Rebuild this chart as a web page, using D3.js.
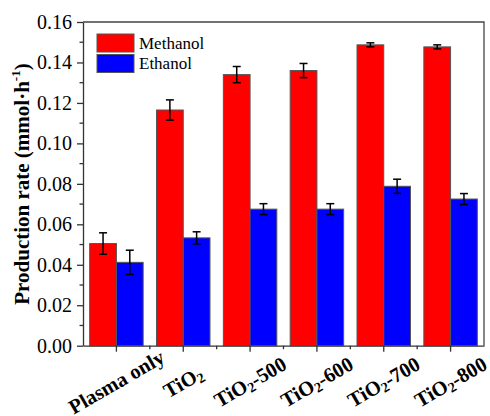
<!DOCTYPE html>
<html lang="en">
<head>
<meta charset="UTF-8">
<title>Production rate</title>
<script src="https://d3js.org/d3.v7.min.js"></script>
<style>
  body { margin: 0; background: #fff; }
  svg text { font-family: "Liberation Serif", "DejaVu Serif", serif !important; }
</style>
</head>
<body>
<script>

var categories = ["Plasma only", "TiO2", "TiO2-500", "TiO2-600", "TiO2-700", "TiO2-800"];
var seriesNames = ["Methanol", "Ethanol"];
var methanol = [0.0505, 0.1165, 0.1340, 0.1360, 0.1487, 0.1477];
var methanolErr = [0.0053, 0.0050, 0.0040, 0.0035, 0.0010, 0.0010];
var ethanol = [0.0412, 0.0533, 0.0675, 0.0675, 0.0788, 0.0725];
var ethanolErr = [0.0060, 0.0030, 0.0027, 0.0027, 0.0035, 0.0027];
var yTicks = [0, 0.02, 0.04, 0.06, 0.08, 0.10, 0.12, 0.14, 0.16];
var colors = ["#ff0000", "#0000ff"];

var width = 490, height = 416;
var plotLeft = 83, plotRight = 484, plotTop = 22, plotBottom = 345.7;
var serif = "'Liberation Serif', 'DejaVu Serif', serif";

var svg = d3.select("body").append("svg")
    .attr("width", width)
    .attr("height", height)
    .attr("font-family", serif);

var x = d3.scaleBand()
    .domain(categories)
    .range([plotLeft, plotRight])
    .paddingInner(0.2)
    .paddingOuter(0.1);

var x1 = d3.scaleBand()
    .domain(seriesNames)
    .range([0, x.bandwidth()]);

var y = d3.scaleLinear()
    .domain([0, 0.16])
    .range([plotBottom, plotTop]);

var values = [methanol, ethanol];
var errs = [methanolErr, ethanolErr];

// bars
seriesNames.forEach(function(s, si) {
    var g = svg.append("g");
    g.selectAll("rect")
        .data(categories)
        .enter().append("rect")
        .attr("x", function(d) { return x(d) + x1(s); })
        .attr("y", function(d, i) { return y(values[si][i]); })
        .attr("width", x1.bandwidth())
        .attr("height", function(d, i) { return plotBottom - y(values[si][i]); })
        .style("fill", colors[si])
        .style("stroke", "#555")
        .style("stroke-width", 1);

    // error bars
    var e = svg.append("g").style("stroke", "#000").style("stroke-width", 1.5);
    categories.forEach(function(d, i) {
        var cx = x(d) + x1(s) + x1.bandwidth() / 2;
        var hi = y(values[si][i] + errs[si][i]), lo = y(values[si][i] - errs[si][i]);
        e.append("line").attr("x1", cx).attr("x2", cx).attr("y1", hi).attr("y2", lo);
        e.append("line").attr("x1", cx - 4).attr("x2", cx + 4).attr("y1", hi).attr("y2", hi);
        e.append("line").attr("x1", cx - 4).attr("x2", cx + 4).attr("y1", lo).attr("y2", lo);
    });
});

// y axis
var yAxis = svg.append("g")
    .attr("transform", "translate(" + plotLeft + ",0)")
    .call(d3.axisLeft(y).tickValues(yTicks).tickFormat(d3.format(".2f")).tickSize(6).tickSizeOuter(0).tickPadding(5));
yAxis.attr("font-family", serif);
yAxis.selectAll("text").style("font-size", "20px").style("fill", "#000");
yAxis.selectAll("line, path").style("stroke", "#333").style("stroke-width", 1.3);

var minorY = d3.range(1, 16, 2).map(function(k) { return k * 0.01; });
svg.append("g").selectAll("line")
    .data(minorY).enter().append("line")
    .attr("x1", plotLeft - 3.5).attr("x2", plotLeft)
    .attr("y1", function(d) { return y(d); }).attr("y2", function(d) { return y(d); })
    .style("stroke", "#333").style("stroke-width", 1.3);

// x axis
var xAxis = svg.append("g")
    .attr("transform", "translate(0," + plotBottom + ")")
    .call(d3.axisBottom(x).tickSize(6).tickSizeOuter(0).tickFormat(""));
xAxis.selectAll("line, path").style("stroke", "#333").style("stroke-width", 1.3);

var minorX = categories.slice(1).map(function(d) { return x(d) - x.step() * x.paddingInner() / 2; });
svg.append("g").selectAll("line")
    .data(minorX).enter().append("line")
    .attr("x1", function(d) { return d; }).attr("x2", function(d) { return d; })
    .attr("y1", plotBottom).attr("y2", plotBottom + 3.5)
    .style("stroke", "#333").style("stroke-width", 1.3);

// frame top + right
svg.append("path")
    .attr("d", "M" + plotLeft + "," + plotTop + "H" + plotRight + "V" + plotBottom)
    .style("fill", "none").style("stroke", "#444").style("stroke-width", 1.3);

// x labels, rotated around their centre
categories.forEach(function(d) {
    var cx = x(d) + x.bandwidth() / 2;
    var t = svg.append("text")
        .attr("transform", "translate(" + cx + ",382) rotate(-30)")
        .attr("text-anchor", "middle")
        .attr("dominant-baseline", "central")
        .style("font-size", "20.5px")
        .style("font-weight", "bold");
    if (d.indexOf("TiO2") === 0) {
        t.append("tspan").text("TiO");
        t.append("tspan").text("2").attr("dy", 5).style("font-size", "14px");
        var rest = d.slice(4);
        if (rest) t.append("tspan").text(rest).attr("dy", -5);
    } else {
        t.text(d);
    }
});

// y title
var yt = svg.append("text")
    .attr("transform", "translate(22,184) rotate(-90)")
    .attr("text-anchor", "middle")
    .attr("dominant-baseline", "central")
    .style("font-size", "21px")
    .style("font-weight", "bold");
yt.append("tspan").text("Production rate (mmol·h");
yt.append("tspan").text("-1").attr("dy", -7).style("font-size", "13px");
yt.append("tspan").text(")").attr("dy", 7);

// legend
var legend = svg.append("g").attr("transform", "translate(97,34)");
seriesNames.forEach(function(s, i) {
    legend.append("rect")
        .attr("x", 0).attr("y", i * 20.5)
        .attr("width", 37).attr("height", 18)
        .style("fill", colors[i])
        .style("stroke", "#555").style("stroke-width", 1);
    legend.append("text")
        .attr("x", 42).attr("y", i * 20.5 + 9)
        .attr("dominant-baseline", "central")
        .style("font-size", "17px")
        .text(s);
});

</script>
</body>
</html>
